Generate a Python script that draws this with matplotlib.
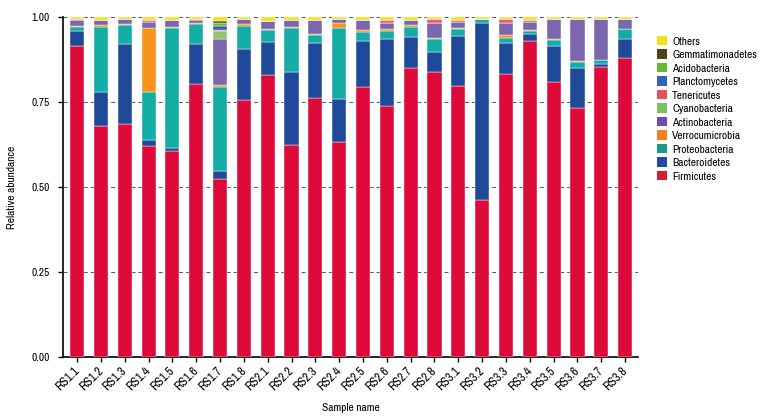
import matplotlib
matplotlib.use("Agg")
import matplotlib.pyplot as plt
from matplotlib.patches import Patch
from matplotlib import font_manager
import numpy as np

samples = ["RS1.1", "RS1.2", "RS1.3", "RS1.4", "RS1.5", "RS1.6", "RS1.7", "RS1.8",
           "RS2.1", "RS2.2", "RS2.3", "RS2.4", "RS2.5", "RS2.6", "RS2.7", "RS2.8",
           "RS3.1", "RS3.2", "RS3.3", "RS3.4", "RS3.5", "RS3.6", "RS3.7", "RS3.8"]

firmicutes      = [0.917, 0.681, 0.685, 0.621, 0.606, 0.804, 0.524, 0.757,
                   0.830, 0.624, 0.764, 0.633, 0.794, 0.740, 0.852, 0.838,
                   0.798, 0.464, 0.832, 0.930, 0.809, 0.734, 0.855, 0.879]
bacteroidetes   = [0.043, 0.100, 0.236, 0.019, 0.009, 0.117, 0.025, 0.149,
                   0.098, 0.216, 0.159, 0.126, 0.136, 0.195, 0.091, 0.061,
                   0.148, 0.520, 0.093, 0.020, 0.107, 0.118, 0.007, 0.056]
proteobacteria  = [0.012, 0.191, 0.056, 0.139, 0.353, 0.059, 0.245, 0.069,
                   0.035, 0.128, 0.025, 0.209, 0.028, 0.026, 0.029, 0.036,
                   0.019, 0.011, 0.015, 0.011, 0.017, 0.017, 0.012, 0.030]
verrucomicrobia = [0.003, 0.004, 0.004, 0.189, 0.004, 0.003, 0.006, 0.004,
                   0.003, 0.003, 0.004, 0.014, 0.004, 0.004, 0.004, 0.004,
                   0.004, 0.000, 0.008, 0.003, 0.004, 0.002, 0.000, 0.000]
actinobacteria  = [0.018, 0.016, 0.015, 0.017, 0.020, 0.010, 0.135, 0.015,
                   0.022, 0.021, 0.041, 0.012, 0.030, 0.019, 0.015, 0.043,
                   0.018, 0.000, 0.034, 0.023, 0.057, 0.123, 0.120, 0.030]
cyanobacteria   = [0.000, 0.000, 0.000, 0.000, 0.000, 0.000, 0.026, 0.000,
                   0.000, 0.000, 0.000, 0.000, 0.000, 0.000, 0.000, 0.000,
                   0.000, 0.000, 0.000, 0.000, 0.000, 0.000, 0.000, 0.000]
tenericutes     = [0.002, 0.000, 0.000, 0.006, 0.000, 0.003, 0.002, 0.000,
                   0.000, 0.000, 0.000, 0.000, 0.000, 0.008, 0.000, 0.013,
                   0.004, 0.000, 0.012, 0.005, 0.000, 0.000, 0.000, 0.000]
planctomycetes  = [0.000, 0.000, 0.000, 0.000, 0.000, 0.000, 0.011, 0.000,
                   0.000, 0.000, 0.000, 0.000, 0.000, 0.000, 0.000, 0.000,
                   0.000, 0.000, 0.000, 0.000, 0.000, 0.000, 0.000, 0.000]
acidobacteria   = [0.000, 0.000, 0.000, 0.000, 0.000, 0.000, 0.008, 0.000,
                   0.000, 0.000, 0.000, 0.000, 0.000, 0.000, 0.000, 0.000,
                   0.000, 0.000, 0.000, 0.000, 0.000, 0.000, 0.000, 0.000]
gemmatimonadetes = [0.000, 0.000, 0.000, 0.000, 0.000, 0.000, 0.006, 0.000,
                    0.000, 0.000, 0.000, 0.000, 0.000, 0.000, 0.000, 0.000,
                    0.000, 0.000, 0.000, 0.000, 0.000, 0.000, 0.000, 0.000]
others          = [0.005, 0.008, 0.004, 0.009, 0.008, 0.004, 0.012, 0.006,
                   0.012, 0.008, 0.007, 0.006, 0.008, 0.008, 0.009, 0.005,
                   0.009, 0.005, 0.006, 0.008, 0.006, 0.006, 0.006, 0.005]

phyla = ["Firmicutes", "Bacteroidetes", "Proteobacteria", "Verrocumicrobia",
         "Actinobacteria", "Cyanobacteria", "Tenericutes", "Planctomycetes",
         "Acidobacteria", "Gemmatimonadetes", "Others"]
series = [firmicutes, bacteroidetes, proteobacteria, verrucomicrobia,
          actinobacteria, cyanobacteria, tenericutes, planctomycetes,
          acidobacteria, gemmatimonadetes, others]
colors = ["#DE0A3A", "#1F4A9A", "#14ADA5", "#F7941D", "#7B67AE", "#8DC66F",
          "#EA5F66", "#3563B2", "#6CBB3C", "#4A4519", "#F5E318"]
legend_colors = ["#D41F2D", "#24499C", "#1B9A8C", "#F47F20", "#6A50A7", "#7CC160",
                 "#E5525A", "#2F63B4", "#66B82F", "#4A4519", "#F2E01A"]

# pick a condensed face if one is installed
cond_name = None
for f in font_manager.fontManager.ttflist:
    n = f.name.lower()
    if f.style != 'normal' or 'bold' in str(f.weight).lower():
        continue
    if 'narrow' in n or 'condensed' in n:
        cond_name = f.name
        break
stretch = 'normal'
if cond_name is None:
    for f in font_manager.fontManager.ttflist:
        st = f.stretch
        if f.style == 'normal' and (st == 'condensed' or st == 'semi-condensed' or (isinstance(st, int) and st < 500)):
            cond_name = f.name
            stretch = st
            break
fam = [cond_name, 'DejaVu Sans'] if cond_name else ['DejaVu Sans']
plt.rcParams['font.family'] = fam
plt.rcParams['font.stretch'] = stretch if cond_name else 'normal'

fs = 8.2 if cond_name else 6.6

fig = plt.figure(figsize=(7.68, 4.2), dpi=100)
ax = fig.add_axes([63/768, 1-357.3/420, (638-63)/768, (357.3-17.3)/420])

x = np.arange(len(samples))
bottom = np.zeros(len(samples))
for name, vals, c in zip(phyla, series, colors):
    v = np.array(vals)
    ax.bar(x, v, width=0.59, bottom=bottom, color=c, edgecolor='white',
           linewidth=0.3, zorder=3, label=name)
    bottom += v

ax.set_xlim(-0.59, 23.54)
ax.set_ylim(0, 1.0)
ax.set_yticks([0, 0.25, 0.5, 0.75, 1.0])
ax.set_yticklabels(["0.00", "0.25", "0.50", "0.75", "1.00"])
ax.set_xticks(x)
ax.set_xticklabels(samples, rotation=45, ha='right', va='center', rotation_mode='anchor')
ax.tick_params(axis='both', labelsize=fs, length=3.6, width=1.0, colors='black')
ax.tick_params(axis='x', labelsize=fs + 0.6, pad=5)
ax.tick_params(axis='y', pad=6)

for s in ['top', 'right']:
    ax.spines[s].set_visible(False)
for s in ['left', 'bottom']:
    ax.spines[s].set_linewidth(1.2)

ax.yaxis.grid(True, linestyle=(0, (4, 3)), color='#555555', linewidth=0.7, zorder=0)
ax.set_axisbelow(True)

ax.set_xlabel("Sample name", fontsize=fs, labelpad=7)
ax.set_ylabel("Relative abundance", fontsize=fs, labelpad=10)

handles = [Patch(facecolor=c, edgecolor='none') for c in legend_colors][::-1]
labels = phyla[::-1]
fig.legend(handles, labels, loc='upper left', bbox_to_anchor=(657/768, 1-36/420),
           frameon=False, fontsize=fs, handlelength=0.88, handleheight=0.88,
           handletextpad=0.44, labelspacing=0.255, borderpad=0, borderaxespad=0)

fig.savefig("out.png", dpi=100)
